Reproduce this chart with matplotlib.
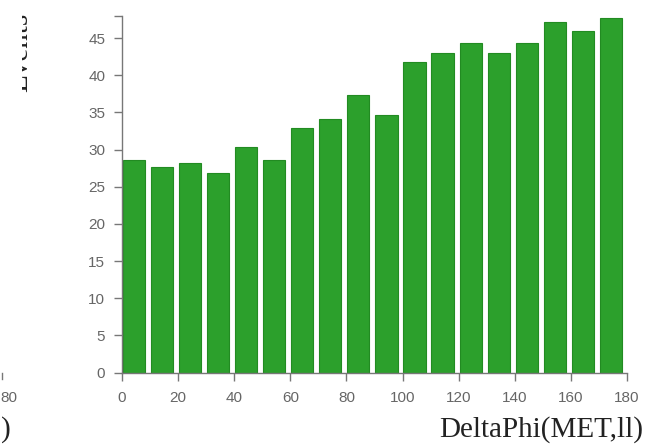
import matplotlib
matplotlib.use("Agg")
import matplotlib.pyplot as plt
from matplotlib.lines import Line2D
from matplotlib.patches import Rectangle

# ---- data ----
bin_low = [0, 10, 20, 30, 40, 50, 60, 70, 80, 90, 100, 110, 120, 130, 140, 150, 160, 170]
events = [28.6, 27.7, 28.2, 26.9, 30.4, 28.6, 32.9, 34.1, 37.4, 34.7,
          41.8, 43.0, 44.3, 43.0, 44.3, 47.2, 46.0, 47.7]
x_ticks = [0, 20, 40, 60, 80, 100, 120, 140, 160, 180]
y_ticks = [0, 5, 10, 15, 20, 25, 30, 35, 40, 45]
x_label = "DeltaPhi(MET,ll)"
y_label = "Events"
frag_tick = "80"
frag_label = ")"

W, H = 657, 445
fig = plt.figure(figsize=(W / 100, H / 100), dpi=100)
fig.patch.set_facecolor("white")

ax_l, ax_r, ax_t, ax_b = 122, 627, 15.8, 372.5
ax = fig.add_axes([ax_l / W, (H - ax_b) / H, (ax_r - ax_l) / W, (ax_b - ax_t) / H])

bin_w = 10
ax.bar([b + 0.3 for b in bin_low], events, width=bin_w * 0.79, align="edge",
       color="#2ca02c", edgecolor="#228b22", linewidth=0.8, zorder=2)

ax.set_xlim(0, 180)
ax.set_ylim(0, 48)

axis_col = "#777777"
for s in ["top", "right"]:
    ax.spines[s].set_visible(False)
for s in ["left", "bottom"]:
    ax.spines[s].set_color(axis_col)
    ax.spines[s].set_linewidth(1.0)
    ax.spines[s].set_zorder(3)

ax.set_xticks(x_ticks)
ax.set_yticks(y_ticks)
ax.set_yticks([48], minor=True)
ax.tick_params(axis="both", which="both", direction="out", length=6, width=1.0,
               color=axis_col, labelcolor="#666666", labelsize=11, pad=6)
ax.tick_params(axis="x", which="major", pad=7)
for lab in ax.get_xticklabels() + ax.get_yticklabels():
    lab.set_fontfamily("Liberation Sans")

# axis titles (serif, placed like the reference)
fig.text(643 / W, (H - 437) / H, x_label, ha="right", va="baseline",
         fontsize=21, family="Liberation Serif", color="#222222")
fig.text(33 / W, (H - 13) / H, y_label, rotation=90, ha="right", va="top",
         fontsize=21, family="Liberation Serif", color="#222222", zorder=1)
# the neighbouring panel covers the left part of the y title
fig.add_artist(Rectangle((0, (H - 110) / H), 22 / W, 110 / H,
                         transform=fig.transFigure, facecolor="white",
                         edgecolor="none", zorder=2))

# fragments of the neighbouring chart visible at the left edge
fig.text(0.5 / W, (H - 398) / H, frag_tick, ha="left", va="center",
         fontsize=11, family="Liberation Sans", color="#666666", zorder=3)
fig.text(1 / W, (H - 437) / H, frag_label, ha="left", va="baseline",
         fontsize=21, family="Liberation Serif", color="#222222", zorder=3)
fig.add_artist(Line2D([2 / W, 2 / W], [(H - 373) / H, (H - 379) / H],
                      transform=fig.transFigure, color=axis_col, lw=1.0))

fig.savefig("out.png", dpi=100)
